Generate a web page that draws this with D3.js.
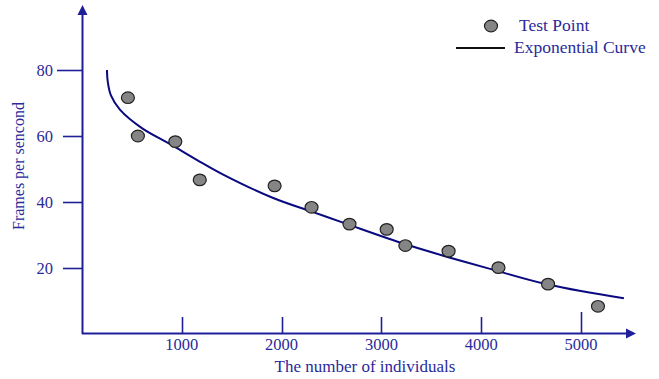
<!DOCTYPE html>
<html>
<head>
<meta charset="utf-8">
<title>Frames per second</title>
<style>
  body { margin: 0; background: #fff; }
  svg text { font-family: "Liberation Serif", "Times New Roman", Times, "DejaVu Serif", serif; fill: #2a2a9a; }
</style>
</head>
<body>
<script src="https://cdn.jsdelivr.net/npm/d3@7/dist/d3.min.js"></script>
<script>
// test points
var pointX = [460, 560, 935, 1180, 1930, 2300, 2680, 3053, 3240, 3673, 4173, 4670, 5170];
var pointY = [71.6, 60.0, 58.3, 46.7, 44.9, 38.4, 33.3, 31.7, 26.8, 25.1, 20.1, 15.1, 8.4];

// fitted curve
var curveX = [250, 258, 290, 380, 600, 880, 1150, 1410, 1910, 2310, 2630, 3250, 3680, 4080, 4680, 5430];
var curveY = [80, 76.5, 72.3, 68.0, 62.4, 57.6, 52.8, 48.4, 41.3, 37.0, 33.6, 27.1, 23.2, 19.8, 14.9, 10.8];

var xTicks = [1000, 2000, 3000, 4000, 5000];
var yTicks = [20, 40, 60, 80];

var W = 659, H = 379;
var axisColor = "#1f1f9a";

var x = d3.scaleLinear().domain([0, 5000]).range([82, 581]);
var y = d3.scaleLinear().domain([0, 80]).range([334, 70]);

var svg = d3.select("body").append("svg")
    .attr("width", W)
    .attr("height", H);

// axes lines with arrows
svg.append("line")
    .attr("x1", x(0)).attr("y1", 333.5)
    .attr("x2", 628).attr("y2", 333.5)
    .style("stroke", axisColor).style("stroke-width", 2);
svg.append("path")
    .attr("d", "M636,333.5 L626,328.5 L626,338.5 Z")
    .style("fill", axisColor);
svg.append("line")
    .attr("x1", 82.5).attr("y1", 334)
    .attr("x2", 82.5).attr("y2", 14)
    .style("stroke", axisColor).style("stroke-width", 2);
svg.append("path")
    .attr("d", "M82.5,5 L77.5,15 L87.5,15 Z")
    .style("fill", axisColor);

// y ticks (left of axis)
svg.selectAll(".ytick").data(yTicks).enter().append("line")
    .attr("x1", function(d) { return d == 80 ? 57 : 63; })
    .attr("x2", 82)
    .attr("y1", function(d) { return Math.round(y(d)) + 0.5; })
    .attr("y2", function(d) { return Math.round(y(d)) + 0.5; })
    .style("stroke", axisColor).style("stroke-width", 1.6);
svg.selectAll(".ylab").data(yTicks).enter().append("text")
    .attr("x", 53)
    .attr("y", function(d) { return y(d) + 5.5; })
    .attr("text-anchor", "end")
    .style("font-size", "16.5px")
    .text(function(d) { return d; });

// x ticks (above axis)
svg.selectAll(".xtick").data(xTicks).enter().append("line")
    .attr("x1", function(d) { return Math.round(x(d)) + 0.5; })
    .attr("x2", function(d) { return Math.round(x(d)) + 0.5; })
    .attr("y1", function(d) { return d == 5000 ? 312 : 317; })
    .attr("y2", 333)
    .style("stroke", axisColor).style("stroke-width", 1.6);
svg.selectAll(".xlab").data(xTicks).enter().append("text")
    .attr("x", function(d) { return x(d); })
    .attr("y", 350)
    .attr("text-anchor", "middle")
    .style("font-size", "16.5px")
    .text(function(d) { return d; });

// axis titles
svg.append("text")
    .attr("x", 365).attr("y", 372)
    .attr("text-anchor", "middle")
    .style("font-size", "17px")
    .text("The number of individuals");
svg.append("text")
    .attr("transform", "translate(24,166) rotate(-90)")
    .attr("text-anchor", "middle")
    .style("font-size", "16px")
    .text("Frames per sencond");

// curve
var curveData = curveX.map(function(d, i) { return { x: d, y: curveY[i] }; });
var line = d3.line()
    .x(function(d) { return x(d.x); })
    .y(function(d) { return y(d.y); })
    .curve(d3.curveCatmullRom.alpha(0.5));
svg.append("path")
    .attr("d", line(curveData))
    .style("fill", "none")
    .style("stroke", "#0a0a80")
    .style("stroke-width", 2);

// points
var pts = pointX.map(function(d, i) { return { x: d, y: pointY[i] }; });
svg.selectAll(".pt").data(pts).enter().append("ellipse")
    .attr("cx", function(d) { return x(d.x); })
    .attr("cy", function(d) { return y(d.y); })
    .attr("rx", 6.5).attr("ry", 5.8)
    .style("fill", "#858585")
    .style("stroke", "#222").style("stroke-width", 1.2);

// legend
svg.append("ellipse")
    .attr("cx", 491).attr("cy", 26)
    .attr("rx", 6.5).attr("ry", 5.8)
    .style("fill", "#858585")
    .style("stroke", "#222").style("stroke-width", 1.2);
svg.append("text")
    .attr("x", 519).attr("y", 31)
    .style("font-size", "17.5px")
    .text("Test Point");
svg.append("line")
    .attr("x1", 456).attr("x2", 505)
    .attr("y1", 48).attr("y2", 48)
    .style("stroke", "#111").style("stroke-width", 2);
svg.append("text")
    .attr("x", 514).attr("y", 53)
    .style("font-size", "17.5px")
    .text("Exponential Curve");
</script>
</body>
</html>
